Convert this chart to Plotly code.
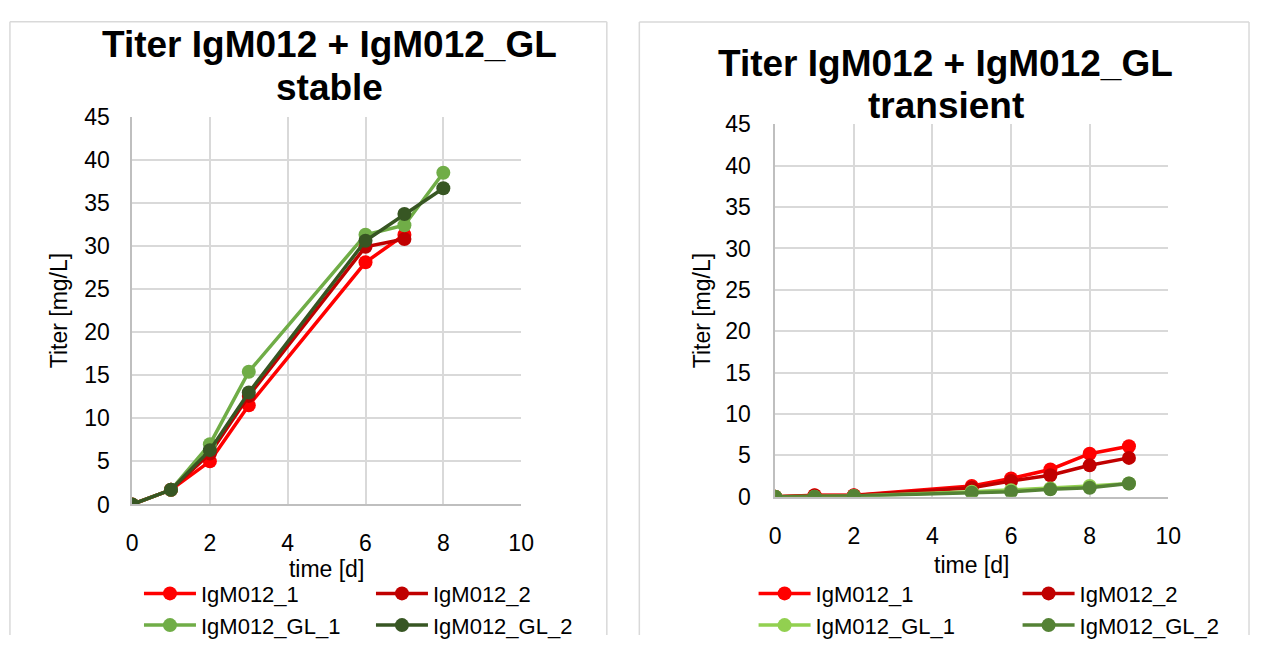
import plotly.graph_objects as go

W, H = 1263, 648

# ---------------- data ----------------
series_names = ["IgM012_1", "IgM012_2", "IgM012_GL_1", "IgM012_GL_2"]

# stable
t_stable_igm = [0, 1, 2, 3, 6, 7]
t_stable_gl = [0, 1, 2, 3, 6, 7, 8]
stable_igm1 = [0, 1.7, 5.0, 11.5, 28.1, 31.3]
stable_igm2 = [0, 1.7, 5.9, 12.6, 29.9, 30.8]
stable_gl1 = [0, 1.7, 7.0, 15.4, 31.3, 32.4, 38.5]
stable_gl2 = [0, 1.7, 6.3, 13.0, 30.6, 33.7, 36.7]

# transient
t_transient = [0, 1, 2, 5, 6, 7, 8, 9]
trans_igm1 = [0, 0.2, 0.2, 1.3, 2.2, 3.3, 5.2, 6.1]
trans_igm2 = [0, 0.15, 0.15, 1.1, 1.9, 2.6, 3.8, 4.7]
trans_gl1 = [0, 0.0, 0.1, 0.6, 0.8, 1.0, 1.3, 1.6]
trans_gl2 = [0, 0.0, 0.1, 0.5, 0.6, 0.9, 1.1, 1.6]

x_ticks = [0, 2, 4, 6, 8, 10]
y_ticks = [0, 5, 10, 15, 20, 25, 30, 35, 40, 45]

titles = [("Titer IgM012 + IgM012_GL", "stable"),
          ("Titer IgM012 + IgM012_GL", "transient")]

stable_colors = ["#FF0000", "#C00000", "#70AD47", "#375623"]
trans_colors = ["#FF0000", "#C00000", "#92D050", "#548235"]

FONT = "Liberation Sans, Arial, sans-serif"

fig = go.Figure()

def px_x(p):
    return p / W

def px_y(p):
    return 1 - p / H

stable_data = [(t_stable_igm, stable_igm1), (t_stable_igm, stable_igm2),
               (t_stable_gl, stable_gl1), (t_stable_gl, stable_gl2)]
trans_data = [(t_transient, trans_igm1), (t_transient, trans_igm2),
              (t_transient, trans_gl1), (t_transient, trans_gl2)]

# one legend per legend row: (stable row 1, stable row 2, transient row 1, transient row 2)
legend_map_stable = ["legend", "legend", "legend2", "legend2"]
legend_map_trans = ["legend3", "legend3", "legend4", "legend4"]
# entry widths: first column sets the column spacing, second column just fits its text
stable_entry_w = [165, 150, 165, 150]
trans_entry_w = [197, 150, 197, 150]

for i, (t, v) in enumerate(stable_data):
    fig.add_trace(go.Scatter(
        x=t, y=v, mode="lines+markers", name=series_names[i],
        line=dict(color=stable_colors[i], width=3.5),
        marker=dict(color=stable_colors[i], size=14),
        xaxis="x", yaxis="y", legend=legend_map_stable[i],
        legendwidth=stable_entry_w[i]))

for i, (t, v) in enumerate(trans_data):
    fig.add_trace(go.Scatter(
        x=t, y=v, mode="lines+markers", name=series_names[i],
        line=dict(color=trans_colors[i], width=3.5),
        marker=dict(color=trans_colors[i], size=14),
        xaxis="x2", yaxis="y2", legend=legend_map_trans[i],
        legendwidth=trans_entry_w[i]))

axis_common = dict(
    showgrid=True, gridcolor="#D9D9D9", gridwidth=1.5,
    showline=True, linecolor="#BFBFBF", linewidth=1.5,
    zeroline=False, ticks="",
    tickfont=dict(family=FONT, size=23, color="#000000"),
)
title_font = dict(family=FONT, size=23, color="#000000")

fig.update_layout(
    width=W, height=H,
    margin=dict(l=0, r=0, t=0, b=0),
    paper_bgcolor="white", plot_bgcolor="white",
    font=dict(family=FONT, size=22, color="#000000"),
    showlegend=True,
    xaxis=dict(domain=[px_x(128), px_x(523)], range=[0, 10], tickvals=x_ticks,
               anchor="y", ticklabelstandoff=17,
               title=dict(text="time [d]", standoff=3, font=title_font),
               **axis_common),
    yaxis=dict(domain=[px_y(512), px_y(108)], range=[0, 45], tickvals=y_ticks,
               anchor="x", ticklabelstandoff=16,
               title=dict(text="Titer [mg/L]", standoff=10, font=title_font),
               **axis_common),
    xaxis2=dict(domain=[px_x(781), px_x(1180)], range=[0, 10], tickvals=x_ticks,
                anchor="y2", ticklabelstandoff=18,
                title=dict(text="time [d]", standoff=9, font=title_font),
                **axis_common),
    yaxis2=dict(domain=[px_y(504), px_y(116)], range=[0, 45], tickvals=y_ticks,
                anchor="x2", ticklabelstandoff=18,
                title=dict(text="Titer [mg/L]", standoff=8, font=title_font),
                **axis_common),
)

leg_common = dict(orientation="h", font=dict(family=FONT, size=22, color="#000000"),
                  bgcolor="rgba(0,0,0,0)", borderwidth=0, yanchor="top",
                  xanchor="left", itemwidth=52)
fig.update_layout(
    legend=dict(x=px_x(135), y=px_y(583), **leg_common),
    legend2=dict(x=px_x(135), y=px_y(616), **leg_common),
    legend3=dict(x=px_x(759), y=px_y(583), **leg_common),
    legend4=dict(x=px_x(759), y=px_y(616), **leg_common),
)

# panel borders (left, top, right edges; bottom is cut off by the window)
border = dict(color="#D9D9D9", width=1.5)
for (xl, xr, yt) in ((4, 610, 9), (643, 1262, 9.5)):
    fig.add_shape(type="line", xref="paper", yref="paper",
                  x0=px_x(xl), x1=px_x(xl), y0=0, y1=px_y(yt), line=border, layer="below")
    fig.add_shape(type="line", xref="paper", yref="paper",
                  x0=px_x(xr), x1=px_x(xr), y0=0, y1=px_y(yt), line=border, layer="below")
    fig.add_shape(type="line", xref="paper", yref="paper",
                  x0=px_x(xl), x1=px_x(xr), y0=px_y(yt), y1=px_y(yt), line=border, layer="below")

# titles (two lines each)
title_pos = [(328, 33, 78), (954, 53, 96)]
for (l1, l2), (cx, y1, y2) in zip(titles, title_pos):
    for txt, yy in ((l1, y1), (l2, y2)):
        fig.add_annotation(text=txt, xref="paper", yref="paper",
                           x=px_x(cx), y=px_y(yy), xanchor="center", yanchor="middle",
                           showarrow=False,
                           font=dict(family=FONT, size=37, color="#000000", weight=700))

fig.write_html("out.html",
               post_script="document.body.style.margin='0';document.body.style.overflow='hidden';")
